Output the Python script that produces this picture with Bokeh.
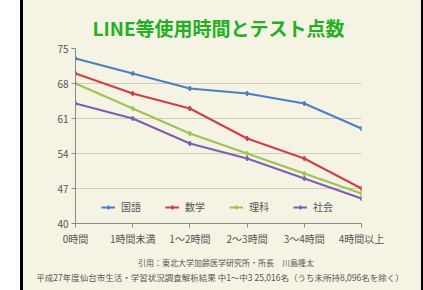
from bokeh.plotting import figure
from bokeh.models import Range1d, FixedTicker, Legend, LegendItem, Div
from bokeh.layouts import column
from bokeh.embed import file_html
from bokeh.resources import INLINE

categories = ["0時間", "1時間未満", "1～2時間", "2～3時間", "3～4時間", "4時間以上"]
kokugo = [73, 70, 67, 66, 64, 59]
sugaku = [70, 66, 63, 57, 53, 47]
rika = [68, 63, 58, 54, 50, 46]
shakai = [64, 61, 56, 53, 49, 45]
series_names = ["国語", "数学", "理科", "社会"]
y_ticks = [40, 47, 54, 61, 68, 75]
title_text = "LINE等使用時間とテスト点数"
note1 = "引用：東北大学加齢医学研究所・所長　川島隆太"
note2 = "平成27年度仙台市生活・学習状況調査解析結果 中1～中3 25,016名（うち未所持8,096名を除く）"

colors = ["#4a7fc4", "#cf3f45", "#9cc450", "#7e5eae"]
CREAM = "#f5f3e4"
FONT = "Noto Sans CJK JP"

W, H = 388, 259
ML, MR, MT, MB = 52, 50, 48, 36

p = figure(width=W, height=H, output_backend="svg", toolbar_location=None,
           x_range=Range1d(0, 5), y_range=Range1d(40, 75),
           min_border_left=ML, min_border_right=MR, min_border_top=MT, min_border_bottom=MB)
p.background_fill_color = CREAM
p.border_fill_color = CREAM
p.outline_line_color = None

p.title.text = title_text
p.title.align = "center"
p.title.text_font = FONT
p.title.text_font_size = "19px"
p.title.text_font_style = "bold"
p.title.text_color = "#22b022"
p.title.standoff = 16

xs = list(range(len(categories)))
items = []
for name, vals, c in zip(series_names, [kokugo, sugaku, rika, shakai], colors):
    r1 = p.line(xs, vals, line_color=c, line_width=2)
    r2 = p.scatter(xs, vals, marker="diamond", size=5, fill_color=c, line_color=c)
    items.append(LegendItem(label=name, renderers=[r1, r2]))

legend = Legend(items=items, orientation="horizontal", location=(26, 9),
                background_fill_alpha=0, border_line_color=None,
                padding=0, margin=0, spacing=24, glyph_width=14, glyph_height=10,
                label_standoff=6, label_text_font=FONT, label_text_font_size="10px",
                label_text_color="#555555", label_height=10)
p.add_layout(legend, "center")

p.xaxis.ticker = FixedTicker(ticks=xs)
p.xaxis.major_label_overrides = {i: c for i, c in enumerate(categories)}
p.yaxis.ticker = FixedTicker(ticks=y_ticks)
for ax in (p.xaxis[0], p.yaxis[0]):
    ax.axis_line_color = "#8a8a8a"
    ax.major_tick_line_color = "#8a8a8a"
    ax.major_tick_out = 4
    ax.major_tick_in = 0
    ax.minor_tick_line_color = None
    ax.major_label_text_font = FONT
    ax.major_label_text_font_size = "10px"
    ax.major_label_text_color = "#555555"
    ax.major_label_standoff = 3
p.xgrid.grid_line_color = None
p.ygrid.ticker = FixedTicker(ticks=y_ticks)
p.ygrid.grid_line_color = "#cfcdc0"

notes_html = (
    f'<div style="width:388px;text-align:center;font-family:\'{FONT}\';font-size:8.5px;'
    f'color:#555555;line-height:14px;white-space:nowrap;position:relative;top:-9px;'
    f'margin-left:4px"><span style="font-size:8px">{note1}</span><br>'
    f'<span style="position:relative;left:-6px">{note2}</span></div>'
)
notes = Div(text=notes_html, width=W, height=28,
            styles={"background-color": CREAM, "overflow": "visible"})

layout = column(p, notes, spacing=0,
                styles={"margin-left": "20px", "background-color": CREAM,
                        "border-left": "3px solid black", "border-right": "3px solid black",
                        "border-bottom": "3px solid black"})

open("out.html", "w").write(file_html(layout, INLINE))
